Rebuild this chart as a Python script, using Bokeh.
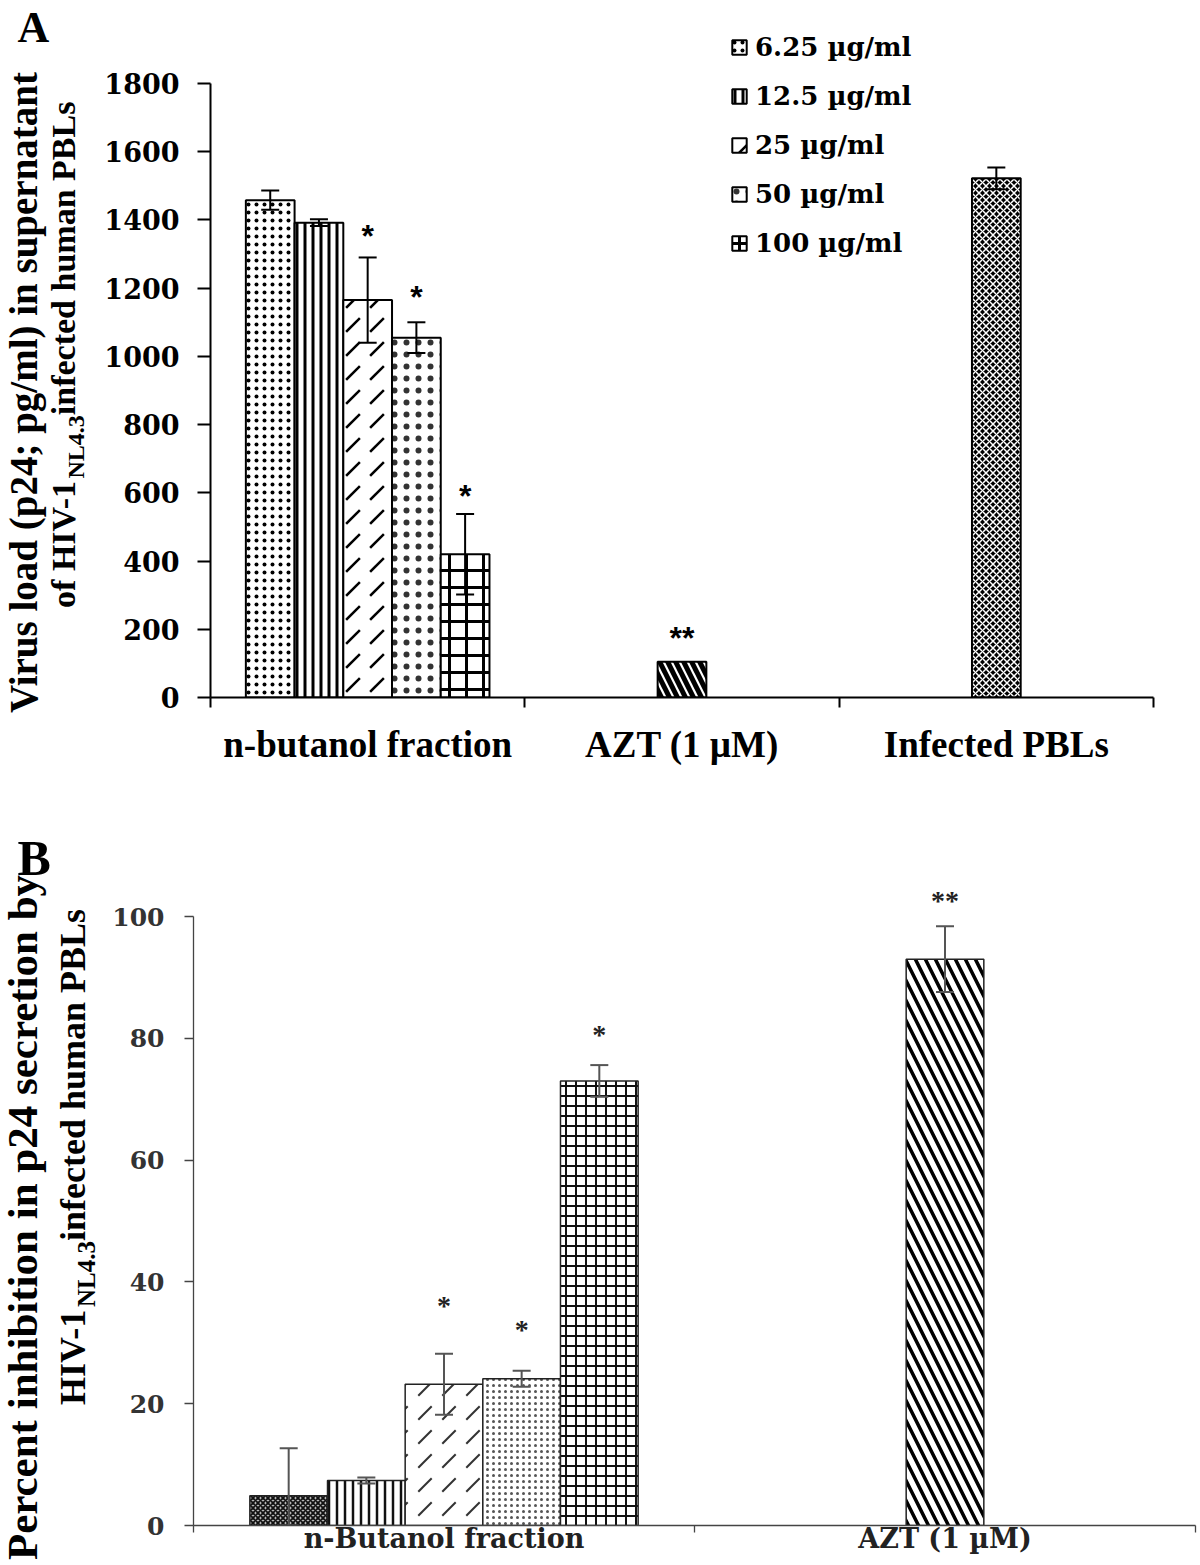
import math
from bokeh.plotting import figure
from bokeh.models import Range1d, FixedTicker, Label, Legend, LegendItem, ColumnDataSource
from bokeh.layouts import column, row
from bokeh.embed import file_html
from bokeh.resources import INLINE
from bokeh.core.properties import value

# ---------------- data ----------------
conc_labels = ["6.25 µg/ml", "12.5 µg/ml", "25 µg/ml", "50 µg/ml", "100 µg/ml"]

a_categories = ["n-butanol fraction", "AZT (1 µM)", "Infected PBLs"]
a_butanol_mean = [1458, 1392, 1165, 1055, 420]
a_butanol_err = [28, 10, 125, 45, 118]
a_butanol_sig = ["", "", "*", "*", "*"]
a_butanol_sig_y = [0, 0, 1366, 1185, 601]
a_azt_mean = [105]
a_azt_sig = ["**"]
a_azt_sig_y = [185]
a_infected_mean = [1522]
a_infected_err = [32]
a_yticks = [0, 200, 400, 600, 800, 1000, 1200, 1400, 1600, 1800]

b_categories = ["n-Butanol fraction", "AZT (1 µM)"]
b_butanol_mean = [4.9, 7.4, 23.2, 24.1, 73.0]
b_butanol_err = [7.8, 0.5, 5.0, 1.3, 2.6]
b_butanol_sig = ["", "", "*", "*", "*"]
b_butanol_sig_y = [0, 0, 36.5, 32.5, 81.0]
b_azt_mean = [93.0]
b_azt_err = [5.4]
b_azt_sig = ["**"]
b_azt_sig_y = [103.0]
b_yticks = [0, 20, 40, 60, 80, 100]

# ---------------- layout constants (page px) ----------------
PAGE_W = 1200
PAGE_H = 1565
A_H = 800
B_H = PAGE_H - A_H
A_TOP = 0
B_TOP = A_H
STRIP_W = 100      # width of the title strip at the left of both panels
A_FL, A_FR, A_FT, A_FB = 210, 1153, 83, 697     # axis extents of panel A
A_FRAME_TOP = 20
B_FL, B_FR, B_FT, B_FB = 193, 1195, 916, 1525   # axis extents of panel B
B_FRAME_TOP = 880
BAR_W = 0.155
BASE_SHIFT = 0.42  # Bokeh places the alphabetic baseline ~0.42 em past the anchor

SERIF = "Liberation Serif"
WIDE_SERIF = "DejaVu Serif"

# Times/Liberation Serif Bold advance widths (per 1000 em)
TW = {' ': 250, '(': 333, ')': 333, '-': 333, '.': 250, '/': 278, ';': 333,
      'A': 722, 'B': 667, 'H': 778, 'I': 389, 'L': 667, 'M': 944, 'N': 722, 'P': 611,
      'T': 667, 'V': 722, 'Z': 667, 'a': 500, 'b': 556, 'c': 444, 'd': 556, 'e': 444,
      'f': 333, 'g': 500, 'h': 556, 'i': 278, 'l': 278, 'm': 833, 'n': 556, 'o': 500,
      'p': 556, 'r': 444, 's': 389, 't': 333, 'u': 556, 'y': 500}


def tw(s, size):
    return sum(TW.get(c, 500) for c in s) * size / 1000.0


a_styles = [
    dict(fill_color="white", hatch_pattern="dot", hatch_scale=8, hatch_weight=1, hatch_color="black"),
    dict(fill_color="white", hatch_pattern="vertical_line", hatch_scale=8, hatch_weight=3, hatch_color="black"),
    dict(fill_color="white", hatch_pattern="right_diagonal_dash", hatch_scale=24, hatch_weight=2.5, hatch_color="black"),
    dict(fill_color="white", hatch_pattern="dot", hatch_scale=12, hatch_weight=1, hatch_color="#333333"),
    dict(fill_color="white", hatch_pattern="cross", hatch_scale=17, hatch_weight=3, hatch_color="black"),
]
a_azt_style = dict(fill_color="white", hatch_pattern="left_diagonal_line", hatch_scale=16, hatch_weight=5, hatch_color="black")
a_inf_style = dict(fill_color="black", hatch_pattern="diagonal_cross", hatch_scale=7, hatch_weight=1.5, hatch_color="white")

b_styles = [
    dict(fill_color="#bbbbbb", hatch_pattern="diagonal_cross", hatch_scale=5, hatch_weight=1.8, hatch_color="#111111"),
    dict(fill_color="white", hatch_pattern="vertical_line", hatch_scale=8, hatch_weight=2.5, hatch_color="#111111"),
    dict(fill_color="white", hatch_pattern="right_diagonal_dash", hatch_scale=24, hatch_weight=2, hatch_color="#333333"),
    dict(fill_color="white", hatch_pattern="dot", hatch_scale=6, hatch_weight=1, hatch_color="#555555"),
    dict(fill_color="white", hatch_pattern="cross", hatch_scale=10, hatch_weight=2, hatch_color="#111111"),
]
b_azt_style = dict(fill_color="white", hatch_pattern="left_diagonal_line", hatch_scale=20, hatch_weight=3.5, hatch_color="black")


def setup_axes(p, ncat, yticks, ymax_axis, cats, tick_font, tick_size, tick_color, cat_font, cat_size,
               cat_color, axis_color, axis_w, ytick_out, ystandoff, xtick_out, xstandoff):
    centers = [i + 0.5 for i in range(ncat)]
    p.xgrid.visible = False
    p.ygrid.visible = False
    p.outline_line_color = None
    p.xaxis.ticker = FixedTicker(ticks=centers, minor_ticks=list(range(ncat + 1)))
    p.xaxis.major_label_overrides = {c: t for c, t in zip(centers, cats)}
    p.xaxis.major_tick_line_color = None
    p.xaxis.major_tick_out = 0
    p.xaxis.major_tick_in = 0
    p.xaxis.minor_tick_out = xtick_out
    p.xaxis.minor_tick_in = 0
    p.xaxis.minor_tick_line_color = axis_color
    p.xaxis.minor_tick_line_width = axis_w
    p.xaxis.major_label_standoff = xstandoff
    p.xaxis.major_label_text_font = cat_font
    p.xaxis.major_label_text_font_style = "bold"
    p.xaxis.major_label_text_font_size = cat_size
    p.xaxis.major_label_text_color = cat_color
    p.yaxis.ticker = FixedTicker(ticks=yticks, minor_ticks=[])
    p.yaxis.bounds = (0, ymax_axis)
    p.yaxis.major_tick_out = ytick_out
    p.yaxis.major_tick_in = 0
    p.yaxis.major_tick_line_color = axis_color
    p.yaxis.major_tick_line_width = axis_w
    p.yaxis.major_label_standoff = ystandoff
    p.yaxis.major_label_text_font = tick_font
    p.yaxis.major_label_text_font_style = "bold"
    p.yaxis.major_label_text_font_size = tick_size
    p.yaxis.major_label_text_color = tick_color
    for ax in (p.xaxis, p.yaxis):
        ax.axis_line_color = axis_color
        ax.axis_line_width = axis_w


def draw_errors(p, xs, means, errs, color, width, cap):
    xe, lo, hi = [], [], []
    for x, m, e in zip(xs, means, errs):
        if e > 0:
            xe.append(x)
            lo.append(max(0, m - e))
            hi.append(m + e)
    src = ColumnDataSource(dict(x=xe, lo=lo, hi=hi))
    p.segment(x0="x", y0="lo", x1="x", y1="hi", source=src, line_color=color, line_width=width)
    p.scatter(x="x", y="hi", source=src, marker="dash", size=cap, line_color=color, line_width=width)
    p.scatter(x="x", y="lo", source=src, marker="dash", size=cap, line_color=color, line_width=width)


# ---------- title strip (one tall plot, data units = page px) ----------
strip = figure(width=STRIP_W, height=PAGE_H, x_range=Range1d(0, STRIP_W), y_range=Range1d(0, PAGE_H),
               output_backend="svg", toolbar_location=None, min_border=0, title=None,
               x_axis_type=None, y_axis_type=None)
strip.outline_line_color = None


def add_text(xp, yp, text, size, rotated=False, align="left"):
    # (xp, yp): wanted baseline position in page px (yp measured from the top)
    if rotated:
        xa, ya = xp - BASE_SHIFT * size, yp
        ang = math.pi / 2
    else:
        xa, ya = xp, yp - BASE_SHIFT * size
        ang = 0.0
    strip.add_layout(Label(x=xa, y=PAGE_H - ya, text=text, angle=ang, text_font=SERIF,
                           text_font_style="bold", text_font_size=f"{size}px", text_align=align,
                           text_baseline="alphabetic", text_color="black"))


def add_two_line_title(line1, size1, base1, center1, parts, center2):
    add_text(base1, center1, line1, size1, True, "center")
    total = sum(tw(t, s) for t, s, _ in parts)
    ycur = center2 + total / 2
    for t, s, base in parts:
        add_text(base, ycur, t, s, True, "left")
        ycur -= tw(t, s)


# ================= Panel A =================
a_ymax = 1800 * (A_FB - A_FRAME_TOP) / (A_FB - A_FT)
pA = figure(width=PAGE_W - STRIP_W, height=A_H, x_range=Range1d(0, 3), y_range=Range1d(0, a_ymax),
            output_backend="svg", toolbar_location=None,
            min_border_left=A_FL - STRIP_W, min_border_right=PAGE_W - A_FR,
            min_border_top=A_FRAME_TOP - A_TOP, min_border_bottom=A_TOP + A_H - A_FB)
setup_axes(pA, 3, a_yticks, 1800, a_categories, WIDE_SERIF, "27px", "black", SERIF, "37px", "black",
           "black", 2, 13, 18, 10, 16)

a_x = [0.5 + (i - 2) * BAR_W for i in range(5)]
a_renderers = []
for i in range(5):
    r = pA.vbar(x=[a_x[i]], top=[a_butanol_mean[i]], width=BAR_W, line_color="black", line_width=2,
                **a_styles[i])
    a_renderers.append(r)
pA.vbar(x=[1.5], top=a_azt_mean, width=BAR_W, line_color="black", line_width=2, **a_azt_style)
pA.vbar(x=[2.5], top=a_infected_mean, width=BAR_W, line_color="black", line_width=2, **a_inf_style)

draw_errors(pA, a_x + [2.5], a_butanol_mean + a_infected_mean, a_butanol_err + a_infected_err,
            "black", 2, 18)

sx, sy, st = [], [], []
for x, s, y in zip(a_x + [1.5], a_butanol_sig + a_azt_sig, a_butanol_sig_y + a_azt_sig_y):
    if s:
        sx.append(x); sy.append(y); st.append(s)
pA.text(x=sx, y=sy, text=st, text_font=value("Liberation Sans"), text_font_style="bold",
        text_font_size="32px", text_align="center", text_baseline="alphabetic", y_offset=4)

legend = Legend(items=[LegendItem(label=conc_labels[i], renderers=[a_renderers[i]]) for i in range(5)],
                location=(730 - A_FL, A_FB - 258), orientation="vertical",
                glyph_width=18, glyph_height=18, label_standoff=7, spacing=19,
                padding=0, margin=0, border_line_color=None, background_fill_alpha=0,
                label_text_font=WIDE_SERIF, label_text_font_style="bold",
                label_text_font_size="26px", label_height=30, label_text_color="black")
pA.add_layout(legend)

add_text(17, 45, "A", 44)
add_two_line_title("Virus load (p24; pg/ml) in supernatant", 39, 39, 392,
                   [("of HIV-1", 34, 77), ("NL4.3", 24, 86), (" infected human PBLs", 34, 77)], 350)

# ================= Panel B =================
b_ymax = 100 * (B_FB - B_FRAME_TOP) / (B_FB - B_FT)
pB = figure(width=PAGE_W - STRIP_W, height=B_H, x_range=Range1d(0, 2), y_range=Range1d(0, b_ymax),
            output_backend="svg", toolbar_location=None,
            min_border_left=B_FL - STRIP_W, min_border_right=PAGE_W - B_FR,
            min_border_top=B_FRAME_TOP - B_TOP, min_border_bottom=B_TOP + B_H - B_FB)
setup_axes(pB, 2, b_yticks, 100, b_categories, WIDE_SERIF, "25px", "#333333", WIDE_SERIF, "27px", "#222222",
           "#444444", 1.3, 9, 20, 7, -10)

b_x = [0.5 + (i - 2) * BAR_W for i in range(5)]
for i in range(5):
    pB.vbar(x=[b_x[i]], top=[b_butanol_mean[i]], width=BAR_W, line_color="#222222", line_width=1.5,
            **b_styles[i])
pB.vbar(x=[1.5], top=b_azt_mean, width=BAR_W, line_color="#222222", line_width=1.5, **b_azt_style)

draw_errors(pB, b_x + [1.5], b_butanol_mean + b_azt_mean, b_butanol_err + b_azt_err, "#555555", 2, 18)

sx, sy, st = [], [], []
for x, s, y in zip(b_x + [1.5], b_butanol_sig + b_azt_sig, b_butanol_sig_y + b_azt_sig_y):
    if s:
        sx.append(x); sy.append(y); st.append(s)
pB.text(x=sx, y=sy, text=st, text_font=value(SERIF), text_font_style="bold",
        text_font_size="28px", text_align="center", text_baseline="alphabetic", y_offset=2,
        text_color="#222222")

add_text(17, 878, "B", 50)
add_two_line_title("Percent inhibition in p24 secretion by", 43, 40, 1217,
                   [("HIV-1", 36, 88), ("NL4.3", 25, 96), (" infected human PBLs", 36, 88)], 1152)

# wrap each panel in its own row so that the column does not align their frames
layout = row(strip, column(row(pA), row(pB)))
open("out.html", "w").write(file_html(layout, INLINE))
